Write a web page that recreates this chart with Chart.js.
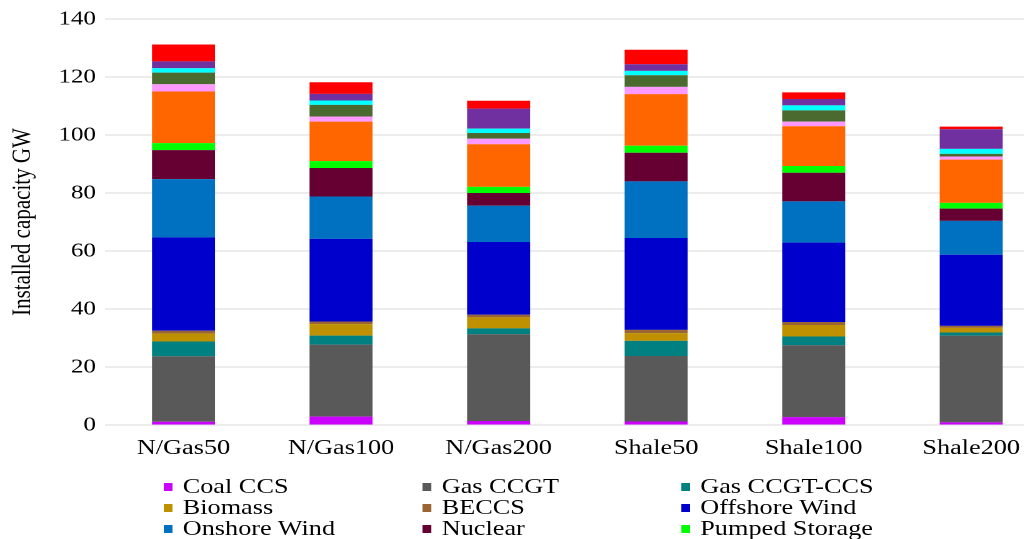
<!DOCTYPE html>
<html>
<head>
<meta charset="utf-8">
<script src="https://cdn.jsdelivr.net/npm/chart.js@4/dist/chart.umd.min.js"></script>
<style>
  html, body { margin: 0; padding: 0; background: #fff; overflow: hidden; width: 1024px; height: 539px; }
  #wrap { position: absolute; left: 0; top: 0; width: 845px; height: 539px; transform: scaleX(1.25); transform-origin: 0 0; }
  #c { position: absolute; left: 0; top: 0; width: 845px; height: 539px; }
  .item { position: absolute; height: 21px; line-height: 21px; font-family: "Liberation Serif", "Times New Roman", serif; font-size: 21px; color: #000; white-space: nowrap; }
  .box { position: absolute; left: 0; top: 7px; width: 7px; height: 8px; }
  .txt { position: absolute; left: 15px; top: 0; }
</style>
</head>
<body>
<div id="wrap">
  <canvas id="c" width="845" height="539"></canvas>
  <div id="legend"></div>
</div>
<script>
// Scenarios on the x axis
const scenarios = ['N/Gas50', 'N/Gas100', 'N/Gas200', 'Shale50', 'Shale100', 'Shale200'];

// Installed capacity by technology (GW), one value per scenario
const coalCcs        = [1.1, 2.9, 1.4, 1.2, 2.7, 0.9];
const gasCcgt        = [22.6, 24.8, 29.9, 22.6, 24.8, 29.9];
const gasCcgtCcs     = [5.1, 3.1, 2.0, 5.2, 3.0, 1.1];
const biomass        = [2.7, 4.0, 3.8, 2.7, 4.0, 1.6];
const beccs          = [1.0, 0.9, 0.9, 1.1, 1.0, 0.7];
const offshoreWind   = [32.2, 28.5, 25.1, 31.7, 27.4, 24.5];
const onshoreWind    = [20.1, 14.6, 12.5, 19.5, 14.2, 11.7];
const nuclear        = [10.0, 9.8, 4.4, 9.9, 9.9, 4.2];
const pumpedStorage  = [2.4, 2.4, 2.1, 2.4, 2.3, 2.0];
const solarPv        = [17.8, 13.6, 14.7, 17.8, 13.7, 14.9];
const hydro          = [2.5, 1.8, 1.9, 2.5, 1.6, 1.1];
const marine         = [4.0, 4.0, 2.0, 4.0, 3.9, 0.9];
const interconnector = [1.5, 1.5, 1.5, 1.5, 1.7, 1.7];
const demandResponse = [2.4, 2.3, 6.9, 2.3, 2.2, 6.8];
const ocgt           = [5.8, 4.0, 2.7, 5.0, 2.3, 0.9];

// Value axis ticks
const yTicks = [0, 20, 40, 60, 80, 100, 120, 140];

// Technologies listed in the key
const keyed = ['Coal CCS', 'Gas CCGT', 'Gas CCGT-CCS', 'Biomass', 'BECCS', 'Offshore Wind',
               'Onshore Wind', 'Nuclear', 'Pumped Storage'];

const series = [
  ['Coal CCS', coalCcs, '#CC00FF'],
  ['Gas CCGT', gasCcgt, '#595959'],
  ['Gas CCGT-CCS', gasCcgtCcs, '#008080'],
  ['Biomass', biomass, '#BF9000'],
  ['BECCS', beccs, '#996633'],
  ['Offshore Wind', offshoreWind, '#0000CC'],
  ['Onshore Wind', onshoreWind, '#0070C0'],
  ['Nuclear', nuclear, '#660033'],
  ['Pumped Storage', pumpedStorage, '#00FF00'],
  ['Solar PV', solarPv, '#FF6600'],
  ['Hydro', hydro, '#FF99FF'],
  ['Marine', marine, '#4A6A30'],
  ['Interconnectors', interconnector, '#00FFFF'],
  ['Demand Response', demandResponse, '#7030A0'],
  ['OCGT', ocgt, '#FF0000']
];

const serif = 'Liberation Serif, Times New Roman, serif';

const chart = new Chart(document.getElementById('c'), {
  type: 'bar',
  data: {
    labels: scenarios,
    datasets: series.map(([label, data, color]) => ({
      label, data,
      backgroundColor: color,
      borderWidth: 0,
      categoryPercentage: 1.0,
      barPercentage: 0.4
    }))
  },
  options: {
    responsive: false,
    animation: false,
    devicePixelRatio: 2,
    layout: { padding: { top: 9, right: 5, left: 0, bottom: 0 } },
    plugins: { legend: { display: false }, tooltip: { enabled: false } },
    scales: {
      x: {
        stacked: true,
        grid: { display: false },
        border: { display: false },
        ticks: { color: '#000', font: { family: serif, size: 21 }, padding: 3, maxRotation: 0 },
        afterFit: s => { s.height = 114; }
      },
      y: {
        stacked: true,
        min: yTicks[0],
        max: yTicks[yTicks.length - 1],
        afterBuildTicks: s => { s.ticks = yTicks.map(v => ({ value: v })); },
        grid: { color: '#D9D9D9', lineWidth: 1, drawTicks: false },
        border: { display: false },
        ticks: { color: '#000', font: { family: serif, size: 20 }, padding: 7 },
        title: {
          display: true, text: 'Installed capacity GW', color: '#000',
          font: { family: serif, size: 21 }, padding: { top: 6, bottom: 0 }
        },
        afterFit: s => { s.width = 83.8; }
      }
    }
  }
});

// Key in three columns beneath the plot
const legend = document.getElementById('legend');
const colX = [131.2, 338.4, 545.2];
const rowY = [475.5, 496.5, 517.5];
keyed.forEach((name, i) => {
  const ds = chart.data.datasets.find(d => d.label === name);
  const el = document.createElement('div');
  el.className = 'item';
  el.style.left = colX[i % 3] + 'px';
  el.style.top = rowY[Math.floor(i / 3)] + 'px';
  el.innerHTML = '<span class="box"></span><span class="txt"></span>';
  el.querySelector('.box').style.background = ds.backgroundColor;
  el.querySelector('.txt').textContent = name;
  legend.appendChild(el);
});
</script>
</body>
</html>
